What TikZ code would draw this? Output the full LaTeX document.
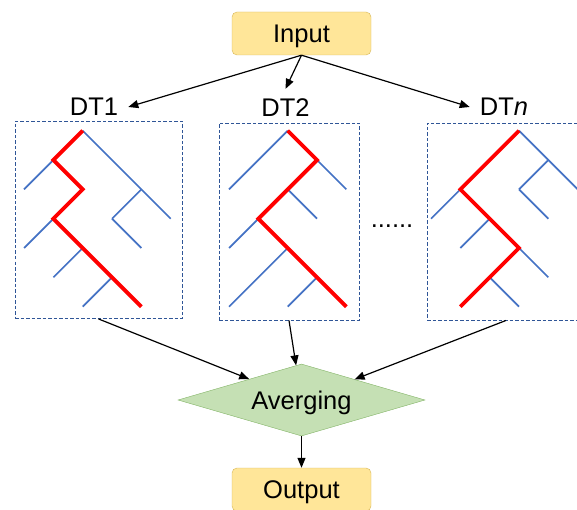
\documentclass[tikz,border=0pt]{standalone}
\usepackage{fontspec}
\setmainfont{Liberation Sans}
\usetikzlibrary{shapes.geometric,arrows.meta}
\definecolor{iofill}{HTML}{FFE699}
\definecolor{ioline}{HTML}{D6B656}
\definecolor{avgfill}{HTML}{C5E0B4}
\definecolor{avgline}{HTML}{82B366}
\definecolor{treeblue}{HTML}{4472C4}
\definecolor{boxline}{HTML}{2F5597}
\begin{document}
\begin{tikzpicture}
  [x=1pt,y=-1pt,font=\fontsize{25.5}{30}\selectfont,
   io/.style={draw=ioline,fill=iofill,rounded corners=5pt,minimum width=139pt,minimum height=43pt,inner sep=0pt,text depth=0pt},
   lbl/.style={inner sep=10pt},
   forest/.style={draw=boxline,line width=.9pt,dash pattern=on 3.5pt off 2pt,minimum height=197pt,inner sep=0pt},
   twig/.style={treeblue,line width=1.7pt},
   path/.style={red,line width=3.8pt},
   link/.style={-{Triangle[length=10pt,width=8pt]},line width=1.2pt}]
  \useasboundingbox (0,0) rectangle (577,510);
  \clip (0,0) rectangle (577,510);

  \node (in)[io] at (301.5,33.5) {Input};
  \node (dt1)[lbl] at (94,107) {DT1};
  \node (dt2)[lbl] at (285.5,108) {DT2};
  \node (dtn)[lbl] at (504,107) {DT\textit{n}};
  \node (box1)[forest,minimum width=167pt] at (98.5,220) {};
  \node (box2)[forest,minimum width=140pt] at (289,221.5) {};
  \node (boxn)[forest,minimum width=158pt] at (506,221.5) {};
  \node (dots)[inner sep=0pt] at (392,226) {......};
  \node (avg)[diamond,draw=avgline,fill=avgfill,minimum width=247pt,minimum height=72pt,aspect=3.4,inner sep=1pt,text depth=0pt] at (301.5,400) {Averging};
  \node (out)[io] at (301.5,489.5) {Output};

  % trees
  \coordinate (r1) at (82.7,130.7);
  \coordinate (r2) at (287.7,130.7);
  \coordinate (rn) at (519,130.7);
  \begin{scope}[shift={(r1)},x=29.33pt,y=-29.33pt]
    \foreach \a/\b/\c/\d in {-1/1/-2/2,0/0/3/3,2/2/1/3,1/3/2/4,-1/3/-2/4,0/4/-1/5,1/5/0/6}
      \draw[twig] (\a,\b) -- (\c,\d);
    \draw[path] (0,0) -- (-1,1) -- (0,2) -- (-1,3) -- (2,6);
  \end{scope}
  \begin{scope}[shift={(r2)},x=29.33pt,y=-29.33pt]
    \foreach \a/\b/\c/\d in {0/0/-2/2,1/1/2/2,0/2/1/3,-1/3/-2/4,0/4/-2/6,1/5/0/6}
      \draw[twig] (\a,\b) -- (\c,\d);
    \draw[path] (0,0) -- (1,1) -- (-1,3) -- (2,6);
  \end{scope}
  \begin{scope}[shift={(rn)},x=29.33pt,y=-29.33pt]
    \foreach \a/\b/\c/\d in {0/0/3/3,1/1/0/2,0/2/1/3,-2/2/-3/3,-1/3/-2/4,0/4/1/5,-1/5/0/6}
      \draw[twig] (\a,\b) -- (\c,\d);
    \draw[path] (0,0) -- (-2,2) -- (0,4) -- (-2,6);
  \end{scope}

  \draw[link] (in.south) -- (dt1.east);
  \draw[link] (in.south) -- (dt2.north);
  \draw[link] (in.south) -- (dtn.west);
  \foreach \b in {box1,box2,boxn}
    \draw[link] (\b.south) -- (avg);
  \draw[link] (avg) -- (out);

\end{tikzpicture}
\end{document}
